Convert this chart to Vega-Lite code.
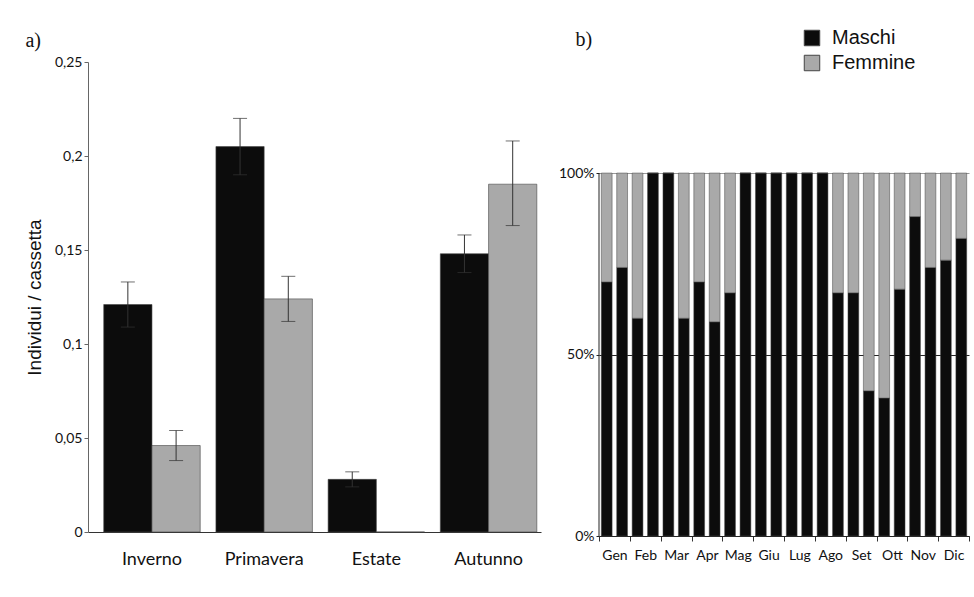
{
  "$schema": "https://vega.github.io/schema/vega-lite/v6.json",
  "background": "white",
  "padding": {"left": 25, "top": 28, "right": 0, "bottom": 0},
  "spacing": 17,
  "resolve": {"scale": {"color": "independent"}, "legend": {"color": "independent"}},
  "config": {
    "view": {"stroke": null},
    "font": "Lato",
    "axis": {"labelColor": "#111", "titleColor": "#111", "labelFont": "Lato", "grid": false}
  },
  "hconcat": [
    {
      "width": 453,
      "height": 470,
      "title": {"text": "a)", "anchor": "start", "font": "Liberation Serif", "fontSize": 20, "fontWeight": "normal", "color": "#111", "offset": 4},
      "data": {
        "values": [
          {"season": "Inverno", "sex": "Maschi", "value": 0.121, "lo": 0.109, "hi": 0.133},
          {"season": "Inverno", "sex": "Femmine", "value": 0.046, "lo": 0.038, "hi": 0.054},
          {"season": "Primavera", "sex": "Maschi", "value": 0.205, "lo": 0.19, "hi": 0.22},
          {"season": "Primavera", "sex": "Femmine", "value": 0.124, "lo": 0.112, "hi": 0.136},
          {"season": "Estate", "sex": "Maschi", "value": 0.028, "lo": 0.024, "hi": 0.032},
          {"season": "Estate", "sex": "Femmine", "value": 0, "lo": null, "hi": null},
          {"season": "Autunno", "sex": "Maschi", "value": 0.148, "lo": 0.138, "hi": 0.158},
          {"season": "Autunno", "sex": "Femmine", "value": 0.185, "lo": 0.163, "hi": 0.208}
        ]
      },
      "layer": [
        {
          "transform": [{"filter": "datum.sex == 'Maschi'"}],
          "mark": {"type": "bar", "width": {"band": 0.5}, "xOffset": {"expr": "-bandwidth('concat_0_x') / 4"}, "stroke": "#444", "strokeWidth": 0.6},
          "encoding": {
            "x": {"field": "season", "type": "nominal", "sort": ["Inverno", "Primavera", "Estate", "Autunno"], "scale": {"paddingInner": 0.14, "paddingOuter": 0.0887, "align": 0.79}, "axis": {"title": null, "labelAngle": 0, "ticks": false, "tickSize": 0, "labelPadding": 18, "labelFontSize": 18, "domainColor": "#333"}},
            "y": {
              "field": "value",
              "type": "quantitative",
              "title": "Individui / cassetta",
              "scale": {"domain": [0, 0.25], "nice": false},
              "axis": {
                "values": [0, 0.05, 0.1, 0.15, 0.2, 0.25],
                "labelExpr": "replace(format(datum.value, '.2~f'), '.', ',')",
                "labelFontSize": 14,
                "tickSize": 4,
                "tickColor": "#666",
                "domainColor": "#666",
                "titleFont": "Liberation Sans",
                "titleFontSize": 19,
                "titleFontWeight": "normal",
                "titlePadding": 10
              }
            },
            "color": {"field": "sex", "type": "nominal", "scale": {"domain": ["Maschi", "Femmine"], "range": ["#0c0c0c", "#a9a9a9"]}, "legend": null}
          }
        },
        {
          "transform": [{"filter": "datum.sex == 'Femmine'"}],
          "mark": {"type": "bar", "width": {"band": 0.5}, "xOffset": {"expr": "bandwidth('concat_0_x') / 4"}, "stroke": "#444", "strokeWidth": 0.6},
          "encoding": {
            "x": {"field": "season", "type": "nominal", "sort": ["Inverno", "Primavera", "Estate", "Autunno"], "scale": {"paddingInner": 0.14, "paddingOuter": 0.0887, "align": 0.79}, "axis": {"title": null, "labelAngle": 0, "ticks": false, "tickSize": 0, "labelPadding": 18, "labelFontSize": 18, "domainColor": "#333"}},
            "y": {"field": "value", "type": "quantitative", "title": "Individui / cassetta", "scale": {"domain": [0, 0.25], "nice": false}},
            "color": {"field": "sex", "type": "nominal", "scale": {"domain": ["Maschi", "Femmine"], "range": ["#0c0c0c", "#a9a9a9"]}, "legend": null}
          }
        },
        {
          "transform": [{"filter": "datum.sex == 'Maschi' && isValid(datum.lo)"}],
          "mark": {"type": "rule", "color": "#333", "strokeWidth": 1},
          "encoding": {
            "x": {"field": "season", "type": "nominal", "sort": ["Inverno", "Primavera", "Estate", "Autunno"], "bandPosition": 0.25, "scale": {"paddingInner": 0.14, "paddingOuter": 0.0887, "align": 0.79}, "axis": {"title": null, "labelAngle": 0, "ticks": false, "tickSize": 0, "labelPadding": 18, "labelFontSize": 18, "domainColor": "#333"}},
            "y": {"field": "lo", "type": "quantitative", "title": "Individui / cassetta", "scale": {"domain": [0, 0.25], "nice": false}},
            "y2": {"field": "hi"}
          }
        },
        {
          "transform": [{"filter": "datum.sex == 'Femmine' && isValid(datum.lo)"}],
          "mark": {"type": "rule", "color": "#333", "strokeWidth": 1},
          "encoding": {
            "x": {"field": "season", "type": "nominal", "sort": ["Inverno", "Primavera", "Estate", "Autunno"], "bandPosition": 0.75, "scale": {"paddingInner": 0.14, "paddingOuter": 0.0887, "align": 0.79}, "axis": {"title": null, "labelAngle": 0, "ticks": false, "tickSize": 0, "labelPadding": 18, "labelFontSize": 18, "domainColor": "#333"}},
            "y": {"field": "lo", "type": "quantitative", "title": "Individui / cassetta", "scale": {"domain": [0, 0.25], "nice": false}},
            "y2": {"field": "hi"}
          }
        },
        {
          "transform": [{"filter": "datum.sex == 'Maschi' && isValid(datum.lo)"}, {"fold": ["lo", "hi"], "as": ["end", "bound"]}],
          "mark": {"type": "tick", "color": "#333", "size": 14, "thickness": 1, "xOffset": {"expr": "-bandwidth('concat_0_x') / 4"}},
          "encoding": {
            "x": {"field": "season", "type": "nominal", "sort": ["Inverno", "Primavera", "Estate", "Autunno"], "scale": {"paddingInner": 0.14, "paddingOuter": 0.0887, "align": 0.79}, "axis": {"title": null, "labelAngle": 0, "ticks": false, "tickSize": 0, "labelPadding": 18, "labelFontSize": 18, "domainColor": "#333"}},
            "y": {"field": "bound", "type": "quantitative", "title": "Individui / cassetta", "scale": {"domain": [0, 0.25], "nice": false}}
          }
        },
        {
          "transform": [{"filter": "datum.sex == 'Femmine' && isValid(datum.lo)"}, {"fold": ["lo", "hi"], "as": ["end", "bound"]}],
          "mark": {"type": "tick", "color": "#333", "size": 14, "thickness": 1, "xOffset": {"expr": "bandwidth('concat_0_x') / 4"}},
          "encoding": {
            "x": {"field": "season", "type": "nominal", "sort": ["Inverno", "Primavera", "Estate", "Autunno"], "scale": {"paddingInner": 0.14, "paddingOuter": 0.0887, "align": 0.79}, "axis": {"title": null, "labelAngle": 0, "ticks": false, "tickSize": 0, "labelPadding": 18, "labelFontSize": 18, "domainColor": "#333"}},
            "y": {"field": "bound", "type": "quantitative", "title": "Individui / cassetta", "scale": {"domain": [0, 0.25], "nice": false}}
          }
        }
      ]
    },
    {
      "width": 370,
      "height": 474,
      "title": {"text": "b)", "anchor": "start", "font": "Liberation Serif", "fontSize": 20, "fontWeight": "normal", "color": "#111", "offset": -22, "dx": 17},
      "data": {
        "values": [
          {"month": "Gen", "half": "1", "sex": "Maschi", "pct": 70}, {"month": "Gen", "half": "1", "sex": "Femmine", "pct": 30},
          {"month": "Gen", "half": "2", "sex": "Maschi", "pct": 74}, {"month": "Gen", "half": "2", "sex": "Femmine", "pct": 26},
          {"month": "Feb", "half": "1", "sex": "Maschi", "pct": 60}, {"month": "Feb", "half": "1", "sex": "Femmine", "pct": 40},
          {"month": "Feb", "half": "2", "sex": "Maschi", "pct": 100}, {"month": "Feb", "half": "2", "sex": "Femmine", "pct": 0},
          {"month": "Mar", "half": "1", "sex": "Maschi", "pct": 100}, {"month": "Mar", "half": "1", "sex": "Femmine", "pct": 0},
          {"month": "Mar", "half": "2", "sex": "Maschi", "pct": 60}, {"month": "Mar", "half": "2", "sex": "Femmine", "pct": 40},
          {"month": "Apr", "half": "1", "sex": "Maschi", "pct": 70}, {"month": "Apr", "half": "1", "sex": "Femmine", "pct": 30},
          {"month": "Apr", "half": "2", "sex": "Maschi", "pct": 59}, {"month": "Apr", "half": "2", "sex": "Femmine", "pct": 41},
          {"month": "Mag", "half": "1", "sex": "Maschi", "pct": 67}, {"month": "Mag", "half": "1", "sex": "Femmine", "pct": 33},
          {"month": "Mag", "half": "2", "sex": "Maschi", "pct": 100}, {"month": "Mag", "half": "2", "sex": "Femmine", "pct": 0},
          {"month": "Giu", "half": "1", "sex": "Maschi", "pct": 100}, {"month": "Giu", "half": "1", "sex": "Femmine", "pct": 0},
          {"month": "Giu", "half": "2", "sex": "Maschi", "pct": 100}, {"month": "Giu", "half": "2", "sex": "Femmine", "pct": 0},
          {"month": "Lug", "half": "1", "sex": "Maschi", "pct": 100}, {"month": "Lug", "half": "1", "sex": "Femmine", "pct": 0},
          {"month": "Lug", "half": "2", "sex": "Maschi", "pct": 100}, {"month": "Lug", "half": "2", "sex": "Femmine", "pct": 0},
          {"month": "Ago", "half": "1", "sex": "Maschi", "pct": 100}, {"month": "Ago", "half": "1", "sex": "Femmine", "pct": 0},
          {"month": "Ago", "half": "2", "sex": "Maschi", "pct": 67}, {"month": "Ago", "half": "2", "sex": "Femmine", "pct": 33},
          {"month": "Set", "half": "1", "sex": "Maschi", "pct": 67}, {"month": "Set", "half": "1", "sex": "Femmine", "pct": 33},
          {"month": "Set", "half": "2", "sex": "Maschi", "pct": 40}, {"month": "Set", "half": "2", "sex": "Femmine", "pct": 60},
          {"month": "Ott", "half": "1", "sex": "Maschi", "pct": 38}, {"month": "Ott", "half": "1", "sex": "Femmine", "pct": 62},
          {"month": "Ott", "half": "2", "sex": "Maschi", "pct": 68}, {"month": "Ott", "half": "2", "sex": "Femmine", "pct": 32},
          {"month": "Nov", "half": "1", "sex": "Maschi", "pct": 88}, {"month": "Nov", "half": "1", "sex": "Femmine", "pct": 12},
          {"month": "Nov", "half": "2", "sex": "Maschi", "pct": 74}, {"month": "Nov", "half": "2", "sex": "Femmine", "pct": 26},
          {"month": "Dic", "half": "1", "sex": "Maschi", "pct": 76}, {"month": "Dic", "half": "1", "sex": "Femmine", "pct": 24},
          {"month": "Dic", "half": "2", "sex": "Maschi", "pct": 82}, {"month": "Dic", "half": "2", "sex": "Femmine", "pct": 18}
        ]
      },
      "layer": [
        {
          "transform": [{"filter": "datum.half == '1'"}],
          "mark": {"type": "bar", "width": {"band": 0.35}, "xOffset": {"expr": "-bandwidth('concat_1_x') / 4"}, "stroke": "#444", "strokeWidth": 0.5},
          "encoding": {
            "x": {"field": "month", "type": "nominal", "sort": ["Gen", "Feb", "Mar", "Apr", "Mag", "Giu", "Lug", "Ago", "Set", "Ott", "Nov", "Dic"], "scale": {"paddingInner": 0, "paddingOuter": 0}, "axis": {"title": null, "labelAngle": 0, "tickBand": "extent", "tickSize": 5, "tickColor": "#333", "labelPadding": 7, "labelFontSize": 14, "domainColor": "#222"}},
            "y": {
              "field": "pct",
              "type": "quantitative",
              "stack": "normalize",
              "scale": {"domain": [0, 1.306], "nice": false},
              "axis": {
                "title": null,
                "values": [0, 0.5, 1],
                "format": ".0%",
                "labelFontSize": 14,
                "domain": false,
                "grid": true,
                "gridColor": {"condition": {"test": "datum.value == 1", "value": "#999"}, "value": "#222"},
                "tickColor": "#222",
                "tickSize": 3
              }
            },
            "color": {
              "field": "sex",
              "type": "nominal",
              "sort": ["Maschi", "Femmine"],
              "scale": {"domain": ["Maschi", "Femmine"], "range": ["#0c0c0c", "#a9a9a9"]},
              "legend": {
                "title": null,
                "orient": "none",
                "legendX": 203,
                "legendY": -34,
                "padding": 0,
                "labelFont": "Liberation Sans",
                "labelFontSize": 20,
                "labelColor": "#111",
                "labelOffset": 10,
                "symbolType": "square",
                "symbolSize": 240,
                "symbolStrokeColor": "#222",
                "symbolStrokeWidth": 1,
                "rowPadding": 5
              }
            }
          }
        },
        {
          "transform": [{"filter": "datum.half == '2'"}],
          "mark": {"type": "bar", "width": {"band": 0.35}, "xOffset": {"expr": "bandwidth('concat_1_x') / 4"}, "stroke": "#444", "strokeWidth": 0.5},
          "encoding": {
            "x": {"field": "month", "type": "nominal", "sort": ["Gen", "Feb", "Mar", "Apr", "Mag", "Giu", "Lug", "Ago", "Set", "Ott", "Nov", "Dic"], "scale": {"paddingInner": 0, "paddingOuter": 0}, "axis": {"title": null, "labelAngle": 0, "tickBand": "extent", "tickSize": 5, "tickColor": "#333", "labelPadding": 7, "labelFontSize": 14, "domainColor": "#222"}},
            "y": {"field": "pct", "type": "quantitative", "stack": "normalize", "scale": {"domain": [0, 1.306], "nice": false}},
            "color": {"field": "sex", "type": "nominal", "sort": ["Maschi", "Femmine"], "scale": {"domain": ["Maschi", "Femmine"], "range": ["#0c0c0c", "#a9a9a9"]}}
          }
        },
        {
          "transform": [{"filter": "datum.month == 'Gen' && datum.half == '1' && datum.sex == 'Maschi'"}],
          "mark": {"type": "rule", "color": "#222", "strokeWidth": 1},
          "encoding": {
            "x": {"field": "month", "type": "nominal", "sort": ["Gen", "Feb", "Mar", "Apr", "Mag", "Giu", "Lug", "Ago", "Set", "Ott", "Nov", "Dic"], "bandPosition": 0, "scale": {"paddingInner": 0, "paddingOuter": 0}, "axis": {"title": null, "labelAngle": 0, "tickBand": "extent", "tickSize": 5, "tickColor": "#333", "labelPadding": 7, "labelFontSize": 14, "domainColor": "#222"}},
            "y": {"datum": 0, "scale": {"domain": [0, 1.306], "nice": false}},
            "y2": {"datum": 1}
          }
        }
      ]
    }
  ]
}
